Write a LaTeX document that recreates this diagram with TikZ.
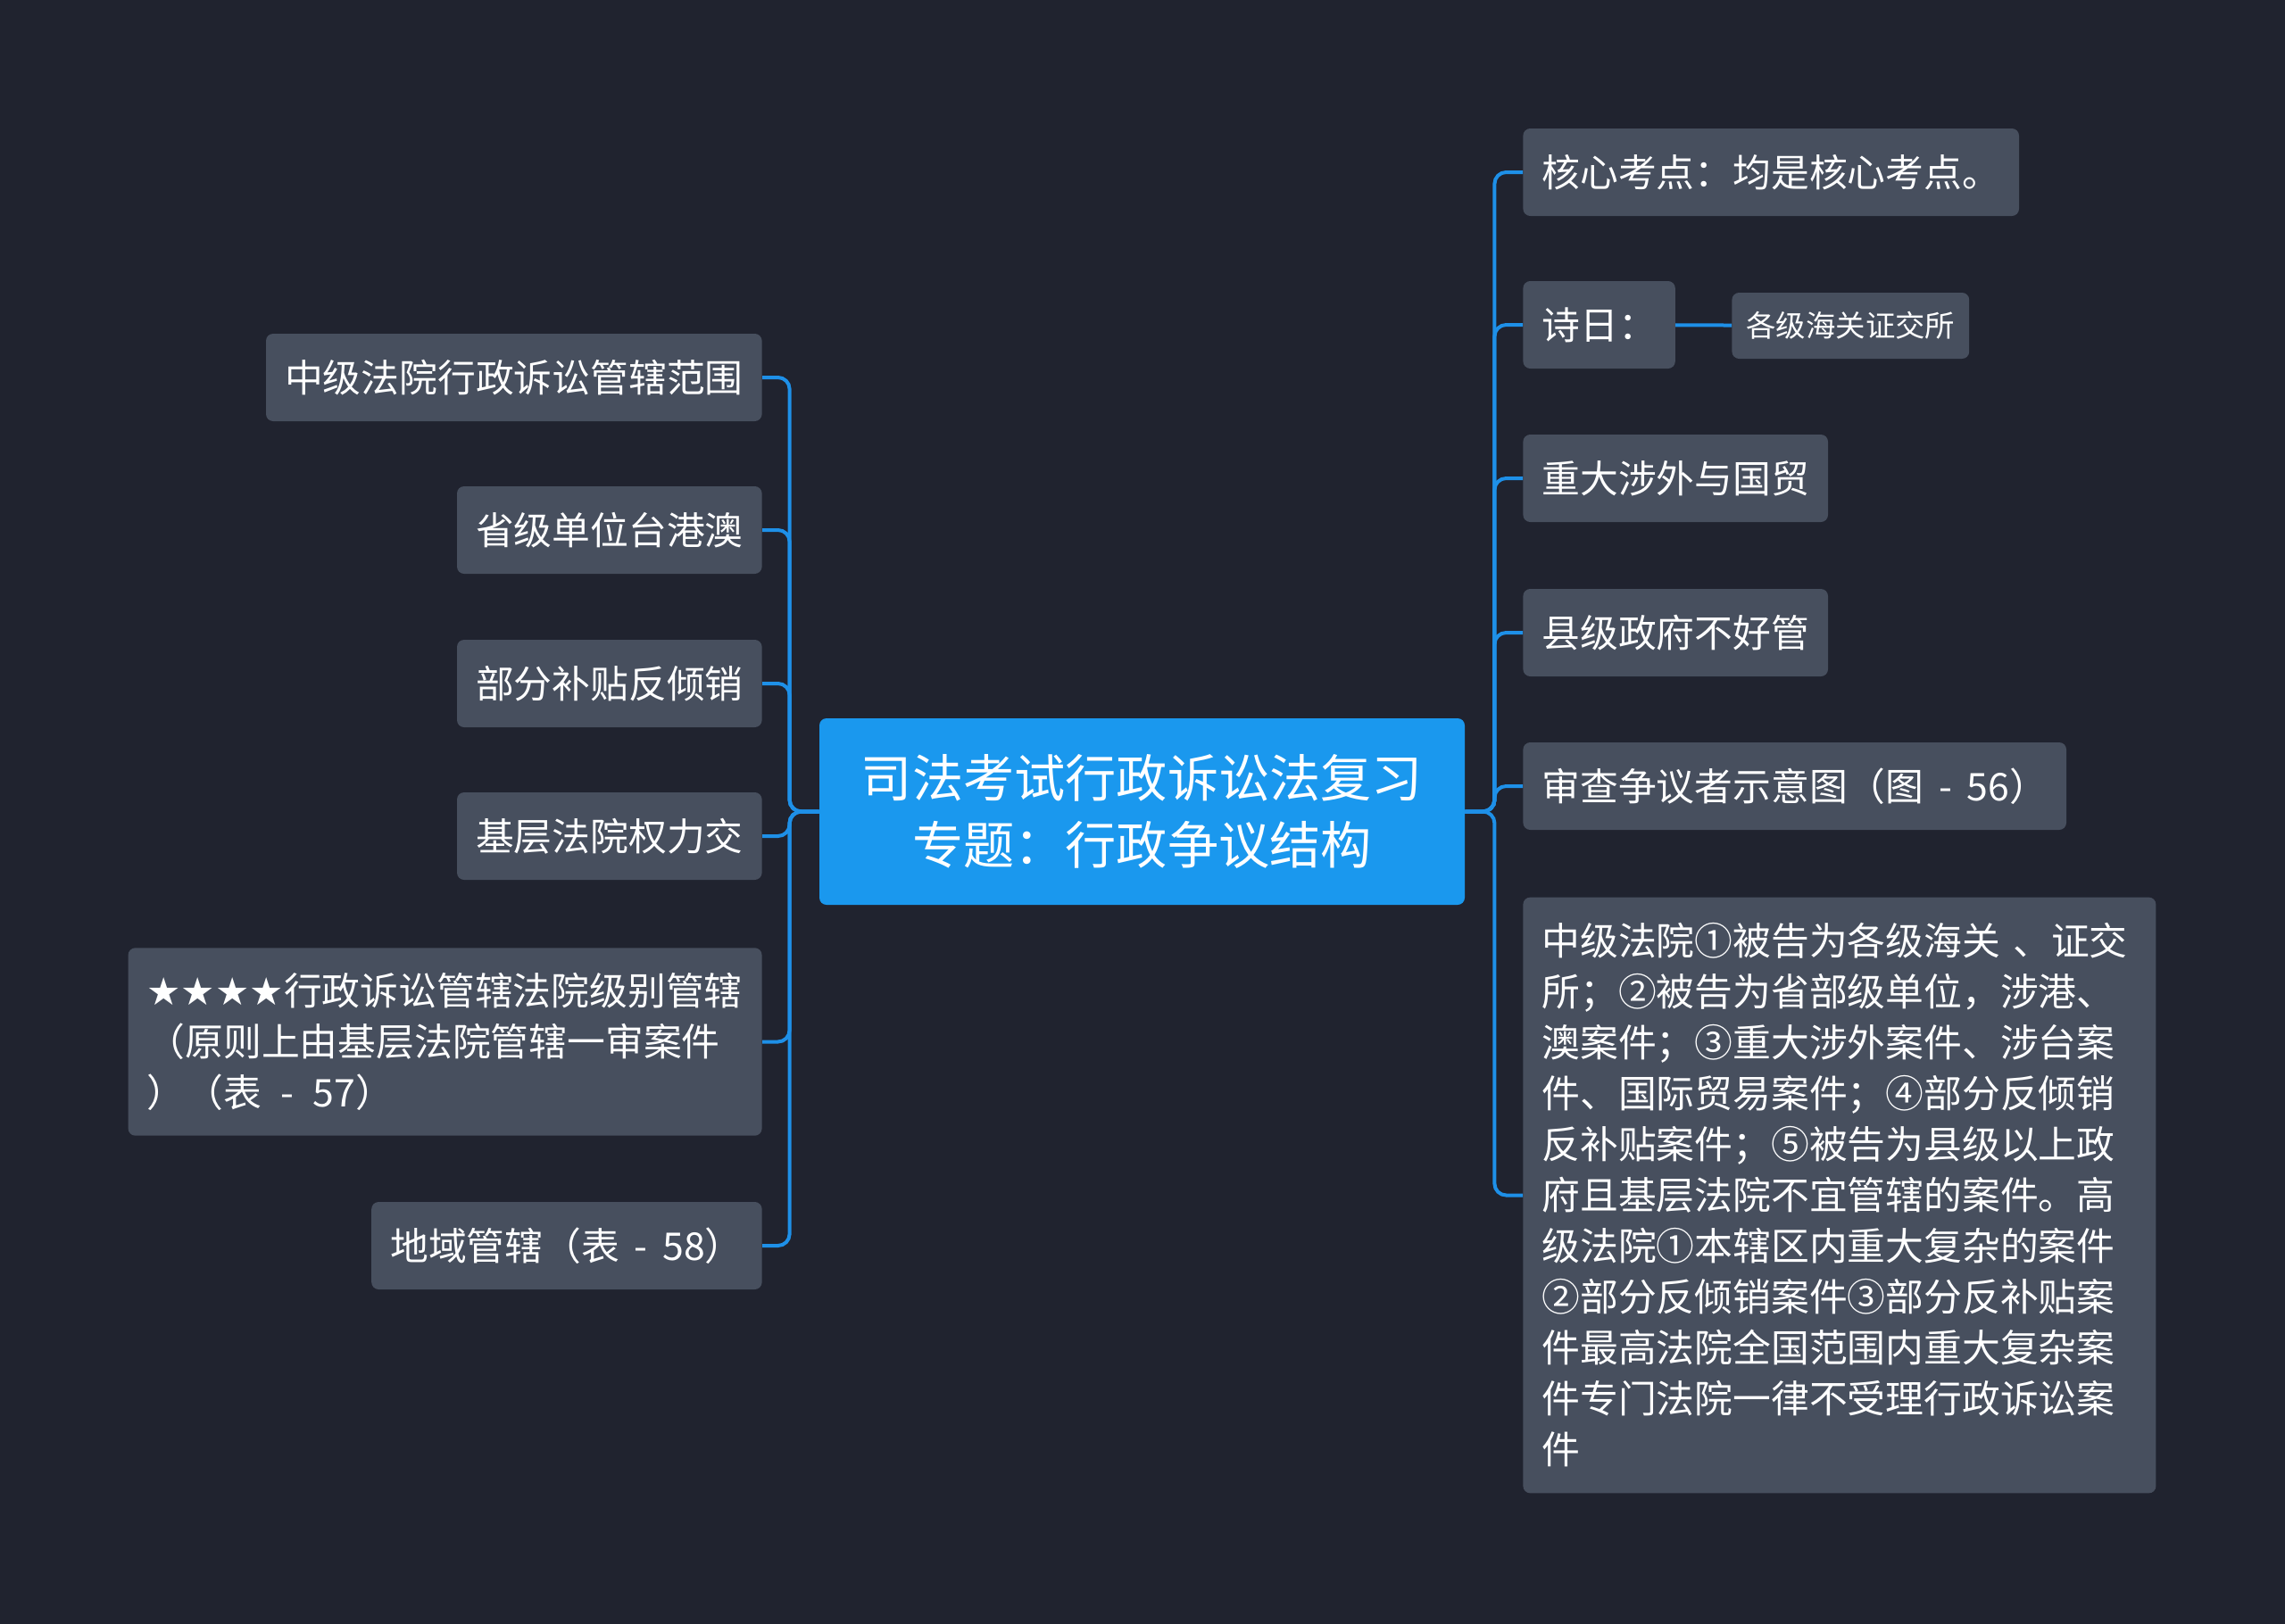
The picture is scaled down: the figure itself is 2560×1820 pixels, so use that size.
\documentclass[tikz,border=0pt]{standalone}
\usepackage{fontspec}
\setmainfont{Noto Sans CJK SC}
\newfontfamily\starfont{DejaVu Sans}
\usepackage{tikz}
\usetikzlibrary{shapes, positioning}
\definecolor{canvas}{HTML}{20232F}
\definecolor{topicgray}{HTML}{474F5E}
\definecolor{rootblue}{HTML}{1A98EE}
\definecolor{linkblue}{HTML}{1E90E8}

\begin{document}
\begin{tikzpicture}[x=0.5pt, y=-0.5pt]
    \tikzstyle{topic} = [rectangle, fill=topicgray, text=white, rounded corners=4pt, minimum height=49pt, inner xsep=10.5pt, inner ysep=0pt, font=\fontsize{21.4}{28.5}\selectfont]
    \tikzstyle{subtopic} = [topic, minimum height=37pt, inner xsep=8pt, font=\fontsize{16.7}{22}\selectfont]
    \tikzstyle{root} = [rectangle, fill=rootblue, text=white, rounded corners=4pt, minimum width=361.5pt, minimum height=104.5pt, align=center, font=\fontsize{28.6}{37.5}\selectfont]
    \tikzstyle{link} = [linkblue, line width=2pt, rounded corners=6.5pt]

    \fill[canvas] (0,0) rectangle (2560,1820);
    \useasboundingbox (0,0) rectangle (2560,1820);

    \node [root] (main) at (1279.5,909.5) {司法考试行政诉讼法复习\\专题：行政争议结构};

    % right side
    \node [topic, anchor=west] (core) at (1706,193) {核心考点：均是核心考点。};
    \node [topic, anchor=west] (poem) at (1706,364) {诗日：};
    \node [subtopic, anchor=west] (customs) at (1940,365) {各级海关证交所};
    \node [topic, anchor=west] (foreign) at (1706,536) {重大涉外与国贸};
    \node [topic, anchor=west] (county) at (1706,709) {县级政府不好管};
    \node [topic, anchor=west, minimum width=303.5pt] (chart) at (1706,881) {审查争议者示意图（图 \,-\, 56）};
    \node [topic, anchor=west, align=left, text width=333.5pt, inner ysep=14.5pt] (detail) at (1706,1339.5) {中级法院①被告为各级海关 、证交\\所；②被告为省部级单位，涉港、\\澳案件；③重大涉外案件、涉台案\\件、国际贸易案件；④部分反倾销\\反补贴案件；⑤被告为县级以上政\\府且基层法院不宜管辖的案件。高\\级法院①本辖区内重大复杂的案件\\②部分反倾销案件③部分反补贴案\\件最高法院全国范围内重大复杂案\\件专门法院一律不受理行政诉讼案\\件};

    % left side
    \node [topic, anchor=east] (middle) at (854,423) {中级法院行政诉讼管辖范围};
    \node [topic, anchor=east] (province) at (854,594) {省级单位台港澳};
    \node [topic, anchor=east] (subsidy) at (854,766) {部分补贴反倾销};
    \node [topic, anchor=east] (basic) at (854,937) {基层法院权力交};
    \node [topic, anchor=east, align=left, text width=334pt, inner ysep=14pt] (level) at (854,1167.5) {{\starfont ★★★★}行政诉讼管辖法院级别管辖\\（原则上由基层法院管辖一审案件\\）（表 \,-\, 57）};
    \node [topic, anchor=east, minimum width=218pt] (region) at (854,1396) {地域管辖（表 \,-\, 58）};

    \foreach \n in {core, poem, foreign, county, chart, detail}
        \draw [link] (main.east) -- ++(33,0) |- (\n.west);
    \foreach \n in {middle, province, subsidy, basic, level, region}
        \draw [link] (main.west) -- ++(-33,0) |- (\n.east);
    \draw [link] (poem) -- (customs);
\end{tikzpicture}
\end{document}
